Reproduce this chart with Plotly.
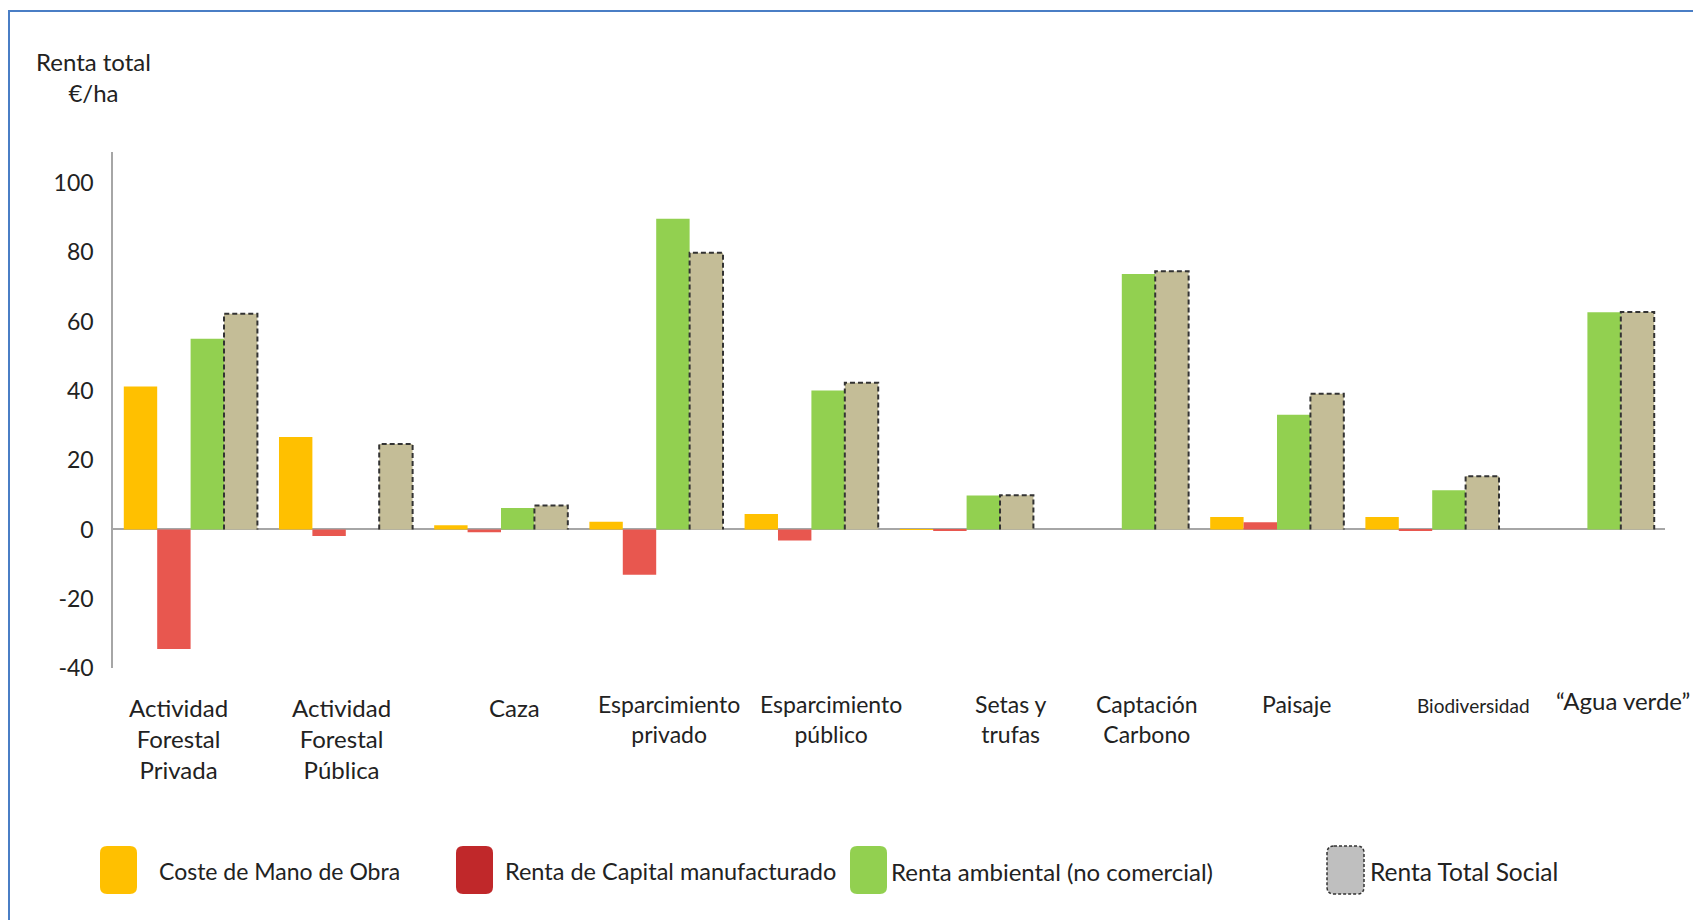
import plotly.graph_objects as go

categories = ["Actividad<br>Forestal<br>Privada", "Actividad<br>Forestal<br>Pública", "Caza",
              "Esparcimiento<br>privado", "Esparcimiento<br>público", "Setas y<br>trufas",
              "Captación<br>Carbono", "Paisaje", "Biodiversidad", "“Agua verde”"]
coste_mano_obra = [41.3, 26.7, 1.2, 2.2, 4.5, 0.1, 0.0, 3.6, 3.6, 0.0]
renta_capital = [-34.5, -1.9, -0.8, -13.1, -3.2, -0.3, 0.0, 2.1, -0.3, 0.0]
renta_ambiental = [55.1, 0.0, 6.2, 89.7, 40.1, 9.8, 73.8, 33.1, 11.3, 62.7]
renta_total_social = [62.3, 24.7, 6.9, 79.9, 42.4, 9.9, 74.6, 39.2, 15.4, 62.8]
series_names = ["Coste de Mano de Obra", "Renta de Capital manufacturado",
                "Renta ambiental (no comercial)", "Renta Total Social"]
y_ticks = [-40, -20, 0, 20, 40, 60, 80, 100]

# ---- styling ----
FONT = "Lato"
TXT = "#222222"
colors = ["#FFC000", "#E8574F", "#92D050", "#C4BD97"]
legend_colors = ["#FFC000", "#C0282A", "#92D050", "#BFBFBF"]
W, H = 1693, 920
L, R, T, B = 113, 1665, 152, 668   # plot area in px
label_shift_px = [-12, -4, 13, 13, 20, 44, 25, 19, 41, 36]
label_size = [24, 24, 24, 23, 23, 23, 23, 23, 19, 24]
label_top_px = [691, 691, 691, 688, 688, 688, 688, 688, 692, 684]
legend_sizes = [23, 23.5, 24, 24.5]

def px2x(px):
    return (px - L) / (R - L)

def py2y(py):
    return (B - py) / (B - T)

n = len(categories)
xs = list(range(n))
bw = 0.861 / 4
offsets = [-0.4305 + k * bw for k in range(4)]

fig = go.Figure()
all_series = [coste_mano_obra, renta_capital, renta_ambiental, renta_total_social]
for k, (vals, name) in enumerate(zip(all_series, series_names)):
    fig.add_trace(go.Bar(
        x=xs, y=vals, name=name, width=bw, offset=offsets[k],
        marker=dict(color=colors[k], line=dict(width=0)),
        showlegend=False,
    ))

# dashed outline of the "Renta Total Social" bars, from the same data
ox, oy = [], []
for i, v in enumerate(renta_total_social):
    x0 = i + offsets[3]
    x1 = x0 + bw
    ox += [x0, x0, x1, x1, None]
    oy += [0, v, v, 0, None]
fig.add_trace(go.Scatter(x=ox, y=oy, mode="lines", showlegend=False, hoverinfo="skip",
                         line=dict(color="#333333", width=2, dash="5px,3px")))

shapes = []
annotations = []

# outer blue frame
shapes.append(dict(type="rect", xref="paper", yref="paper",
                   x0=px2x(9), x1=px2x(1705), y0=py2y(930), y1=py2y(11),
                   line=dict(color="#4A7EC5", width=2), fillcolor="rgba(0,0,0,0)", layer="above"))

def rounded_path(x0, y0, x1, y1, r):
    def P(px, py):
        return f"{px2x(px):.6f},{py2y(py):.6f}"
    return (f"M {P(x0 + r, y0)} L {P(x1 - r, y0)} Q {P(x1, y0)} {P(x1, y0 + r)} "
            f"L {P(x1, y1 - r)} Q {P(x1, y1)} {P(x1 - r, y1)} "
            f"L {P(x0 + r, y1)} Q {P(x0, y1)} {P(x0, y1 - r)} "
            f"L {P(x0, y0 + r)} Q {P(x0, y0)} {P(x0 + r, y0)} Z")

sw_x = [100, 456, 850, 1327]
txt_x = [157, 503, 889, 1368]
sw_w, sw_top, sw_bot = 37, 846, 894
for k in range(4):
    line = dict(width=0) if k < 3 else dict(color="#333333", width=1.5, dash="3px,2px")
    shapes.append(dict(type="path", xref="paper", yref="paper",
                       path=rounded_path(sw_x[k], sw_top, sw_x[k] + sw_w, sw_bot, 7),
                       fillcolor=legend_colors[k], line=line, layer="above"))
    annotations.append(dict(xref="paper", yref="paper", x=px2x(txt_x[k]), y=py2y(871),
                            xanchor="left", yanchor="middle", showarrow=False,
                            text=series_names[k], font=dict(family=FONT, size=legend_sizes[k], color=TXT)))

# category labels
for i, lab in enumerate(categories):
    annotations.append(dict(xref="x", yref="paper", x=i, y=py2y(label_top_px[i]),
                            xshift=label_shift_px[i], xanchor="center", yanchor="top",
                            showarrow=False, align="center", text=lab,
                            font=dict(family=FONT, size=label_size[i], color=TXT)))

# axis title
annotations.append(dict(xref="paper", yref="paper", x=px2x(93), y=py2y(77),
                        xanchor="center", yanchor="middle", showarrow=False, align="center",
                        text="Renta total<br>€/ha", font=dict(family=FONT, size=24, color=TXT)))

fig.update_layout(
    width=W, height=H,
    margin=dict(l=L, r=W - R, t=T, b=H - B, autoexpand=False),
    paper_bgcolor="white", plot_bgcolor="white",
    barmode="overlay",
    shapes=shapes, annotations=annotations,
    font=dict(family=FONT, size=22, color=TXT),
    xaxis=dict(range=[-0.5, n - 0.5], showticklabels=False, showgrid=False,
               zeroline=False, showline=False, ticks=""),
    yaxis=dict(range=[-40, 109], tickvals=y_ticks, ticktext=[str(v) for v in y_ticks],
               showgrid=False, zeroline=True, zerolinecolor="#A6A6A6", zerolinewidth=2,
               showline=True, linecolor="#A6A6A6", linewidth=1.5, ticks="",
               ticklabelstandoff=13, tickfont=dict(family=FONT, size=23, color=TXT)),
)

fig.write_html("out.html")
